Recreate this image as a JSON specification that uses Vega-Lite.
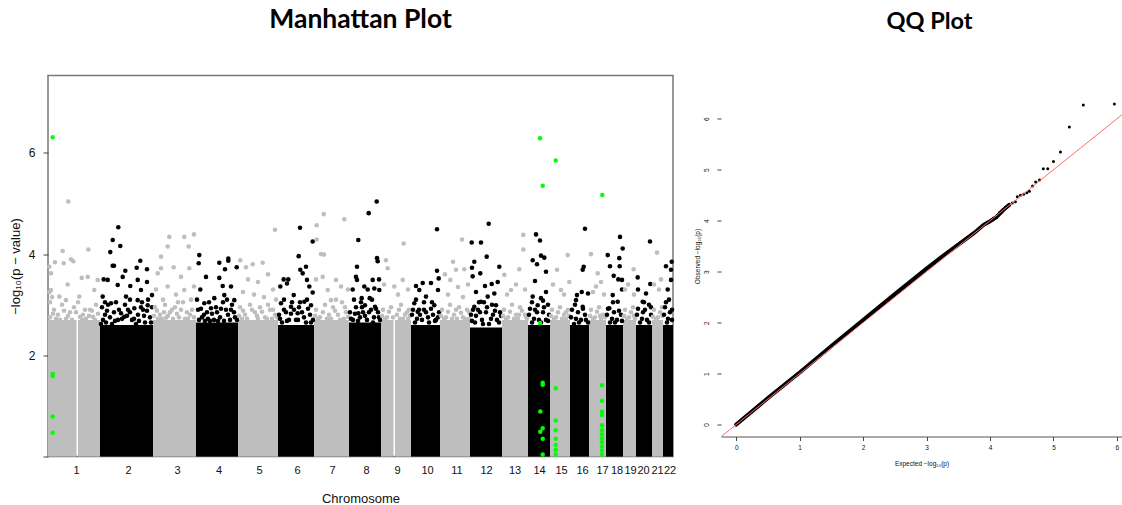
{
  "$schema": "https://vega.github.io/schema/vega-lite/v6.json",
  "background": "white",
  "padding": {"left": 8, "top": 5.5, "right": 0, "bottom": 0},
  "spacing": 17,
  "config": {
    "view": {"stroke": null},
    "axis": {"grid": false, "labelColor": "#111", "titleColor": "#111", "tickColor": "#444", "domain": false},
    "title": {"font": "Lato", "fontWeight": "bold", "color": "#000"}
  },
  "datasets": {
    "chroms": [
      {"chr": 1, "pos": 0, "pos2": 28.5, "logp": 2.7},
      {"chr": 1, "pos": 30, "pos2": 52, "logp": 2.7},
      {"chr": 2, "pos": 52, "pos2": 105, "logp": 2.6},
      {"chr": 3, "pos": 105, "pos2": 148, "logp": 2.7},
      {"chr": 4, "pos": 148, "pos2": 190, "logp": 2.65},
      {"chr": 5, "pos": 190, "pos2": 230, "logp": 2.7},
      {"chr": 6, "pos": 230, "pos2": 266, "logp": 2.6},
      {"chr": 7, "pos": 266, "pos2": 301, "logp": 2.7},
      {"chr": 8, "pos": 301, "pos2": 333, "logp": 2.65},
      {"chr": 9, "pos": 333, "pos2": 345.5, "logp": 2.7},
      {"chr": 9, "pos": 347, "pos2": 363, "logp": 2.7},
      {"chr": 10, "pos": 363, "pos2": 392, "logp": 2.6},
      {"chr": 11, "pos": 392, "pos2": 422, "logp": 2.7},
      {"chr": 12, "pos": 422, "pos2": 454, "logp": 2.55},
      {"chr": 13, "pos": 454, "pos2": 480, "logp": 2.7},
      {"chr": 14, "pos": 480, "pos2": 502, "logp": 2.6},
      {"chr": 15, "pos": 502, "pos2": 522, "logp": 2.7},
      {"chr": 16, "pos": 522, "pos2": 541, "logp": 2.6},
      {"chr": 17, "pos": 541, "pos2": 558, "logp": 2.7},
      {"chr": 18, "pos": 558, "pos2": 575, "logp": 2.6},
      {"chr": 19, "pos": 575, "pos2": 588, "logp": 2.7},
      {"chr": 20, "pos": 588, "pos2": 604, "logp": 2.6},
      {"chr": 21, "pos": 604, "pos2": 615, "logp": 2.7},
      {"chr": 22, "pos": 615, "pos2": 625, "logp": 2.6}
    ],
    "snps": [
      {"chr":1,"pos":20.3,"logp":5.04},{"chr":1,"pos":14.7,"logp":4.06},{"chr":1,"pos":7,"logp":3.84},{"chr":1,"pos":23,"logp":3.9},{"chr":1,"pos":25.3,"logp":3.86},{"chr":1,"pos":15.7,"logp":3.82},{"chr":1,"pos":40.3,"logp":4.09},{"chr":1,"pos":1.3,"logp":3.75},{"chr":1,"pos":3,"logp":3.62},{"chr":1,"pos":19.7,"logp":3.4},{"chr":1,"pos":33.7,"logp":3.53},{"chr":1,"pos":39.7,"logp":3.55},{"chr":1,"pos":3,"logp":3.29},{"chr":1,"pos":11.3,"logp":3.16},{"chr":1,"pos":18,"logp":3.09},{"chr":1,"pos":31.3,"logp":3.16},{"chr":1,"pos":46.3,"logp":3.29},{"chr":1,"pos":49.7,"logp":3.49},{"chr":1,"pos":1.5,"logp":3.25},{"chr":1,"pos":4,"logp":3.15},{"chr":1,"pos":2,"logp":3.05},
      {"chr":1,"pos":6,"logp":2.9},{"chr":1,"pos":10,"logp":2.8},{"chr":1,"pos":14,"logp":3.0},{"chr":1,"pos":22,"logp":2.85},{"chr":1,"pos":26,"logp":2.95},{"chr":1,"pos":35,"logp":2.8},{"chr":1,"pos":42,"logp":2.9},{"chr":1,"pos":48,"logp":3.0},{"chr":1,"pos":30,"logp":3.05},{"chr":1,"pos":8,"logp":2.72},{"chr":1,"pos":18,"logp":2.72},{"chr":1,"pos":38,"logp":2.72},{"chr":1,"pos":45,"logp":2.76},{"chr":1,"pos":32,"logp":2.76},
      {"chr":1,"pos":2,"logp":2.75},{"chr":1,"pos":5,"logp":2.82},{"chr":1,"pos":12,"logp":2.7},{"chr":1,"pos":16,"logp":2.88},{"chr":1,"pos":20,"logp":2.78},{"chr":1,"pos":24,"logp":2.7},{"chr":1,"pos":28,"logp":2.85},{"chr":1,"pos":34,"logp":2.7},{"chr":1,"pos":37,"logp":2.9},{"chr":1,"pos":41,"logp":2.78},{"chr":1,"pos":44,"logp":2.88},{"chr":1,"pos":47,"logp":2.7},{"chr":1,"pos":50,"logp":2.82},
      {"chr":2,"pos":70.3,"logp":4.53},{"chr":2,"pos":64.7,"logp":4.28},{"chr":2,"pos":72.3,"logp":4.16},{"chr":2,"pos":62.3,"logp":4.04},{"chr":2,"pos":64.7,"logp":3.77},{"chr":2,"pos":66,"logp":3.77},{"chr":2,"pos":92.3,"logp":3.87},{"chr":2,"pos":88.7,"logp":3.73},{"chr":2,"pos":99,"logp":3.7},{"chr":2,"pos":77.3,"logp":3.67},{"chr":2,"pos":74.7,"logp":3.55},{"chr":2,"pos":82.3,"logp":3.37},{"chr":2,"pos":89.7,"logp":3.49},{"chr":2,"pos":99,"logp":3.45},{"chr":2,"pos":55.7,"logp":3.5},{"chr":2,"pos":59.7,"logp":3.49},{"chr":2,"pos":69.7,"logp":3.39},{"chr":2,"pos":54.7,"logp":3.16},{"chr":2,"pos":78,"logp":3.16},{"chr":2,"pos":93,"logp":3.29},{"chr":2,"pos":104,"logp":3.19},{"chr":2,"pos":63,"logp":3.03},{"chr":2,"pos":89.7,"logp":3.09},{"chr":2,"pos":99.7,"logp":2.99},{"chr":2,"pos":73,"logp":2.83},{"chr":2,"pos":76.3,"logp":2.76},{"chr":2,"pos":86.3,"logp":2.93},
      {"chr":2,"pos":54,"logp":2.95},{"chr":2,"pos":57,"logp":2.8},{"chr":2,"pos":60,"logp":3.0},{"chr":2,"pos":58,"logp":2.65},{"chr":2,"pos":66,"logp":2.85},{"chr":2,"pos":70,"logp":2.7},{"chr":2,"pos":80,"logp":2.9},{"chr":2,"pos":84,"logp":2.7},{"chr":2,"pos":90,"logp":2.8},{"chr":2,"pos":95,"logp":2.9},{"chr":2,"pos":102,"logp":2.75},{"chr":2,"pos":97,"logp":2.65},{"chr":2,"pos":64,"logp":2.62},{"chr":2,"pos":88,"logp":2.62},{"chr":2,"pos":53,"logp":2.62},{"chr":2,"pos":104,"logp":2.95},{"chr":2,"pos":68,"logp":3.05},{"chr":2,"pos":77,"logp":3.0},{"chr":2,"pos":100,"logp":3.1},
      {"chr":2,"pos":55,"logp":2.7},{"chr":2,"pos":59,"logp":2.88},{"chr":2,"pos":62,"logp":2.75},{"chr":2,"pos":67,"logp":2.68},{"chr":2,"pos":71,"logp":2.9},{"chr":2,"pos":74,"logp":2.72},{"chr":2,"pos":79,"logp":2.78},{"chr":2,"pos":82,"logp":2.85},{"chr":2,"pos":86,"logp":2.72},{"chr":2,"pos":91,"logp":2.68},{"chr":2,"pos":93,"logp":2.95},{"chr":2,"pos":96,"logp":2.78},{"chr":2,"pos":99,"logp":2.88},{"chr":2,"pos":103,"logp":2.65},{"chr":2,"pos":57,"logp":3.05},{"chr":2,"pos":82,"logp":3.1},{"chr":2,"pos":94,"logp":3.05},
      {"chr":3,"pos":121.3,"logp":4.34},{"chr":3,"pos":136.3,"logp":4.34},{"chr":3,"pos":146,"logp":4.39},{"chr":3,"pos":119.7,"logp":4.15},{"chr":3,"pos":140.7,"logp":4.15},{"chr":3,"pos":113,"logp":3.95},{"chr":3,"pos":125.7,"logp":3.74},{"chr":3,"pos":109.7,"logp":3.62},{"chr":3,"pos":113,"logp":3.72},{"chr":3,"pos":133,"logp":3.55},{"chr":3,"pos":141.3,"logp":3.72},{"chr":3,"pos":119.7,"logp":3.36},{"chr":3,"pos":136.3,"logp":3.29},{"chr":3,"pos":146,"logp":3.36},{"chr":3,"pos":108,"logp":3.3},{"chr":3,"pos":128,"logp":3.2},{"chr":3,"pos":143,"logp":3.1},
      {"chr":3,"pos":107,"logp":2.95},{"chr":3,"pos":112,"logp":2.8},{"chr":3,"pos":117,"logp":3.0},{"chr":3,"pos":122,"logp":2.85},{"chr":3,"pos":127,"logp":2.95},{"chr":3,"pos":131,"logp":2.75},{"chr":3,"pos":135,"logp":3.05},{"chr":3,"pos":139,"logp":2.85},{"chr":3,"pos":144,"logp":2.9},{"chr":3,"pos":110,"logp":2.72},{"chr":3,"pos":125,"logp":2.72},{"chr":3,"pos":140,"logp":2.72},{"chr":3,"pos":118,"logp":2.74},
      {"chr":3,"pos":106,"logp":2.78},{"chr":3,"pos":109,"logp":2.88},{"chr":3,"pos":114,"logp":2.72},{"chr":3,"pos":116,"logp":2.85},{"chr":3,"pos":120,"logp":2.78},{"chr":3,"pos":124,"logp":2.9},{"chr":3,"pos":129,"logp":2.82},{"chr":3,"pos":133,"logp":2.9},{"chr":3,"pos":137,"logp":2.72},{"chr":3,"pos":142,"logp":2.8},{"chr":3,"pos":146,"logp":2.75},{"chr":3,"pos":115,"logp":3.1},{"chr":3,"pos":130,"logp":3.05},
      {"chr":4,"pos":151.3,"logp":3.98},{"chr":4,"pos":150.7,"logp":3.82},{"chr":4,"pos":171.3,"logp":3.83},{"chr":4,"pos":180.3,"logp":3.91},{"chr":4,"pos":180.3,"logp":3.87},{"chr":4,"pos":177,"logp":3.7},{"chr":4,"pos":188.7,"logp":3.74},{"chr":4,"pos":158,"logp":3.55},{"chr":4,"pos":171.3,"logp":3.53},{"chr":4,"pos":152.3,"logp":3.3},{"chr":4,"pos":174.7,"logp":3.37},{"chr":4,"pos":183,"logp":3.36},{"chr":4,"pos":166.3,"logp":3.13},{"chr":4,"pos":176.3,"logp":3.19},{"chr":4,"pos":156.3,"logp":3.03},{"chr":4,"pos":186.3,"logp":3.09},{"chr":4,"pos":163,"logp":2.93},
      {"chr":4,"pos":150,"logp":2.9},{"chr":4,"pos":154,"logp":2.75},{"chr":4,"pos":159,"logp":2.85},{"chr":4,"pos":162,"logp":2.68},{"chr":4,"pos":168,"logp":2.95},{"chr":4,"pos":172,"logp":2.75},{"chr":4,"pos":178,"logp":2.9},{"chr":4,"pos":182,"logp":2.7},{"chr":4,"pos":186,"logp":2.85},{"chr":4,"pos":189,"logp":2.7},{"chr":4,"pos":157,"logp":2.68},{"chr":4,"pos":170,"logp":2.68},{"chr":4,"pos":184,"logp":3.0},{"chr":4,"pos":149,"logp":3.1},{"chr":4,"pos":175,"logp":3.05},
      {"chr":4,"pos":151,"logp":2.7},{"chr":4,"pos":153,"logp":2.92},{"chr":4,"pos":156,"logp":2.8},{"chr":4,"pos":160,"logp":2.72},{"chr":4,"pos":164,"logp":2.82},{"chr":4,"pos":166,"logp":2.7},{"chr":4,"pos":169,"logp":2.85},{"chr":4,"pos":173,"logp":2.92},{"chr":4,"pos":176,"logp":2.68},{"chr":4,"pos":180,"logp":2.8},{"chr":4,"pos":183,"logp":2.9},{"chr":4,"pos":187,"logp":2.75},{"chr":4,"pos":161,"logp":3.05},{"chr":4,"pos":179,"logp":3.1},
      {"chr":5,"pos":227,"logp":4.48},{"chr":5,"pos":214.7,"logp":3.83},{"chr":5,"pos":204.7,"logp":3.8},{"chr":5,"pos":192.3,"logp":3.88},{"chr":5,"pos":198,"logp":3.74},{"chr":5,"pos":200,"logp":3.5},{"chr":5,"pos":210,"logp":3.45},{"chr":5,"pos":220,"logp":3.6},{"chr":5,"pos":225,"logp":3.3},{"chr":5,"pos":195,"logp":3.25},{"chr":5,"pos":206,"logp":3.2},{"chr":5,"pos":216,"logp":3.15},{"chr":5,"pos":228,"logp":3.1},
      {"chr":5,"pos":192,"logp":2.95},{"chr":5,"pos":197,"logp":2.8},{"chr":5,"pos":202,"logp":3.0},{"chr":5,"pos":207,"logp":2.85},{"chr":5,"pos":212,"logp":2.95},{"chr":5,"pos":217,"logp":2.75},{"chr":5,"pos":222,"logp":2.9},{"chr":5,"pos":227,"logp":2.8},{"chr":5,"pos":194,"logp":2.72},{"chr":5,"pos":210,"logp":2.72},{"chr":5,"pos":224,"logp":2.72},
      {"chr":5,"pos":191,"logp":2.78},{"chr":5,"pos":195,"logp":2.88},{"chr":5,"pos":199,"logp":2.72},{"chr":5,"pos":204,"logp":2.9},{"chr":5,"pos":209,"logp":2.78},{"chr":5,"pos":214,"logp":2.86},{"chr":5,"pos":219,"logp":2.72},{"chr":5,"pos":220,"logp":3.0},{"chr":5,"pos":225,"logp":2.9},{"chr":5,"pos":229,"logp":2.75},
      {"chr":6,"pos":252,"logp":4.52},{"chr":6,"pos":264.7,"logp":4.25},{"chr":6,"pos":250.7,"logp":3.96},{"chr":6,"pos":252.3,"logp":3.69},{"chr":6,"pos":258,"logp":3.75},{"chr":6,"pos":254.7,"logp":3.62},{"chr":6,"pos":235.7,"logp":3.5},{"chr":6,"pos":240.3,"logp":3.5},{"chr":6,"pos":232.3,"logp":3.36},{"chr":6,"pos":259,"logp":3.49},{"chr":6,"pos":261.3,"logp":3.36},{"chr":6,"pos":264.7,"logp":3.24},{"chr":6,"pos":239,"logp":3.42},{"chr":6,"pos":245.7,"logp":3.19},{"chr":6,"pos":233,"logp":3.03},{"chr":6,"pos":256.3,"logp":3.06},{"chr":6,"pos":243,"logp":2.96},{"chr":6,"pos":263,"logp":2.99},{"chr":6,"pos":249.7,"logp":2.83},
      {"chr":6,"pos":231,"logp":2.8},{"chr":6,"pos":234,"logp":2.65},{"chr":6,"pos":238,"logp":2.85},{"chr":6,"pos":241,"logp":2.7},{"chr":6,"pos":246,"logp":2.9},{"chr":6,"pos":250,"logp":2.7},{"chr":6,"pos":254,"logp":2.85},{"chr":6,"pos":258,"logp":2.65},{"chr":6,"pos":262,"logp":2.8},{"chr":6,"pos":265,"logp":2.7},{"chr":6,"pos":236,"logp":3.1},{"chr":6,"pos":252,"logp":3.05},
      {"chr":6,"pos":232,"logp":2.72},{"chr":6,"pos":236,"logp":2.9},{"chr":6,"pos":239,"logp":2.68},{"chr":6,"pos":243,"logp":2.82},{"chr":6,"pos":248,"logp":2.7},{"chr":6,"pos":251,"logp":2.95},{"chr":6,"pos":256,"logp":2.75},{"chr":6,"pos":260,"logp":2.92},{"chr":6,"pos":263,"logp":2.65},{"chr":6,"pos":244,"logp":3.05},{"chr":6,"pos":259,"logp":3.1},
      {"chr":7,"pos":275.7,"logp":4.79},{"chr":7,"pos":268.7,"logp":4.57},{"chr":7,"pos":296.3,"logp":4.69},{"chr":7,"pos":268.7,"logp":4.29},{"chr":7,"pos":273,"logp":4.0},{"chr":7,"pos":276,"logp":3.99},{"chr":7,"pos":274.7,"logp":3.55},{"chr":7,"pos":288,"logp":3.49},{"chr":7,"pos":293,"logp":3.36},{"chr":7,"pos":279.7,"logp":3.29},{"chr":7,"pos":283,"logp":3.09},{"chr":7,"pos":268,"logp":3.5},{"chr":7,"pos":300,"logp":3.3},
      {"chr":7,"pos":268,"logp":2.9},{"chr":7,"pos":272,"logp":2.75},{"chr":7,"pos":277,"logp":3.0},{"chr":7,"pos":281,"logp":2.8},{"chr":7,"pos":285,"logp":2.95},{"chr":7,"pos":290,"logp":2.8},{"chr":7,"pos":294,"logp":3.05},{"chr":7,"pos":298,"logp":2.85},{"chr":7,"pos":270,"logp":2.72},{"chr":7,"pos":283,"logp":2.72},{"chr":7,"pos":296,"logp":2.72},
      {"chr":7,"pos":267,"logp":2.78},{"chr":7,"pos":275,"logp":2.85},{"chr":7,"pos":279,"logp":2.72},{"chr":7,"pos":287,"logp":2.88},{"chr":7,"pos":292,"logp":2.7},{"chr":7,"pos":297,"logp":2.95},{"chr":7,"pos":300,"logp":2.76},{"chr":7,"pos":288,"logp":3.1},
      {"chr":8,"pos":328.7,"logp":5.04},{"chr":8,"pos":320.7,"logp":4.81},{"chr":8,"pos":310.3,"logp":4.28},{"chr":8,"pos":329,"logp":3.92},{"chr":8,"pos":329.7,"logp":3.86},{"chr":8,"pos":309,"logp":3.75},{"chr":8,"pos":308,"logp":3.55},{"chr":8,"pos":309,"logp":3.49},{"chr":8,"pos":324.7,"logp":3.49},{"chr":8,"pos":331,"logp":3.5},{"chr":8,"pos":304.7,"logp":3.3},{"chr":8,"pos":316.3,"logp":3.36},{"chr":8,"pos":319.7,"logp":3.3},{"chr":8,"pos":326.3,"logp":3.32},{"chr":8,"pos":331.3,"logp":3.29},{"chr":8,"pos":313.7,"logp":3.13},{"chr":8,"pos":321.7,"logp":3.13},{"chr":8,"pos":317,"logp":2.99},{"chr":8,"pos":327,"logp":2.96},{"chr":8,"pos":310.3,"logp":2.83},
      {"chr":8,"pos":302,"logp":2.85},{"chr":8,"pos":305,"logp":2.7},{"chr":8,"pos":308,"logp":2.95},{"chr":8,"pos":312,"logp":2.75},{"chr":8,"pos":315,"logp":2.85},{"chr":8,"pos":319,"logp":2.7},{"chr":8,"pos":323,"logp":2.9},{"chr":8,"pos":326,"logp":2.75},{"chr":8,"pos":330,"logp":2.85},{"chr":8,"pos":332,"logp":2.7},{"chr":8,"pos":306,"logp":3.1},{"chr":8,"pos":324,"logp":3.1},
      {"chr":8,"pos":303,"logp":2.72},{"chr":8,"pos":307,"logp":2.82},{"chr":8,"pos":310,"logp":2.68},{"chr":8,"pos":314,"logp":2.95},{"chr":8,"pos":317,"logp":2.78},{"chr":8,"pos":321,"logp":2.85},{"chr":8,"pos":325,"logp":2.65},{"chr":8,"pos":328,"logp":2.92},{"chr":8,"pos":331,"logp":2.75},{"chr":8,"pos":313,"logp":3.05},
      {"chr":9,"pos":338,"logp":3.88},{"chr":9,"pos":339.7,"logp":3.72},{"chr":9,"pos":355.7,"logp":4.21},{"chr":9,"pos":354.7,"logp":3.49},{"chr":9,"pos":346.3,"logp":3.36},{"chr":9,"pos":360,"logp":3.3},{"chr":9,"pos":336,"logp":3.4},{"chr":9,"pos":350,"logp":3.2},
      {"chr":9,"pos":335,"logp":2.9},{"chr":9,"pos":339,"logp":2.75},{"chr":9,"pos":343,"logp":2.95},{"chr":9,"pos":349,"logp":2.8},{"chr":9,"pos":353,"logp":3.0},{"chr":9,"pos":357,"logp":2.8},{"chr":9,"pos":361,"logp":2.9},{"chr":9,"pos":337,"logp":2.72},{"chr":9,"pos":352,"logp":2.72},{"chr":9,"pos":360,"logp":2.72},
      {"chr":9,"pos":334,"logp":2.78},{"chr":9,"pos":341,"logp":2.86},{"chr":9,"pos":345,"logp":2.75},{"chr":9,"pos":351,"logp":2.9},{"chr":9,"pos":355,"logp":2.72},{"chr":9,"pos":359,"logp":2.85},{"chr":9,"pos":362,"logp":2.78},
      {"chr":10,"pos":389,"logp":4.49},{"chr":10,"pos":389,"logp":3.67},{"chr":10,"pos":390.7,"logp":3.52},{"chr":10,"pos":368,"logp":3.37},{"chr":10,"pos":374.7,"logp":3.43},{"chr":10,"pos":383,"logp":3.43},{"chr":10,"pos":371.3,"logp":3.29},{"chr":10,"pos":378,"logp":3.16},{"chr":10,"pos":390,"logp":3.29},{"chr":10,"pos":366.3,"logp":3.03},{"chr":10,"pos":386.3,"logp":2.99},{"chr":10,"pos":369.7,"logp":2.86},
      {"chr":10,"pos":364,"logp":2.8},{"chr":10,"pos":367,"logp":2.65},{"chr":10,"pos":371,"logp":2.9},{"chr":10,"pos":374,"logp":2.7},{"chr":10,"pos":378,"logp":2.85},{"chr":10,"pos":381,"logp":2.65},{"chr":10,"pos":385,"logp":2.8},{"chr":10,"pos":388,"logp":2.7},{"chr":10,"pos":391,"logp":2.85},{"chr":10,"pos":376,"logp":3.05},
      {"chr":10,"pos":365,"logp":2.9},{"chr":10,"pos":369,"logp":2.72},{"chr":10,"pos":372,"logp":2.8},{"chr":10,"pos":376,"logp":2.9},{"chr":10,"pos":380,"logp":2.75},{"chr":10,"pos":383,"logp":2.92},{"chr":10,"pos":387,"logp":2.68},{"chr":10,"pos":390,"logp":2.75},{"chr":10,"pos":368,"logp":3.1},{"chr":10,"pos":384,"logp":3.05},
      {"chr":11,"pos":414,"logp":4.29},{"chr":11,"pos":408,"logp":3.69},{"chr":11,"pos":416.3,"logp":3.7},{"chr":11,"pos":402.3,"logp":3.49},{"chr":11,"pos":397,"logp":3.6},{"chr":11,"pos":410,"logp":3.35},{"chr":11,"pos":420,"logp":3.4},{"chr":11,"pos":400,"logp":3.2},{"chr":11,"pos":415,"logp":3.15},{"chr":11,"pos":405,"logp":3.85},
      {"chr":11,"pos":394,"logp":2.9},{"chr":11,"pos":398,"logp":2.75},{"chr":11,"pos":402,"logp":3.0},{"chr":11,"pos":406,"logp":2.8},{"chr":11,"pos":411,"logp":2.95},{"chr":11,"pos":415,"logp":2.75},{"chr":11,"pos":419,"logp":2.9},{"chr":11,"pos":396,"logp":2.72},{"chr":11,"pos":409,"logp":2.72},{"chr":11,"pos":421,"logp":2.72},
      {"chr":11,"pos":393,"logp":2.78},{"chr":11,"pos":400,"logp":2.86},{"chr":11,"pos":404,"logp":2.72},{"chr":11,"pos":408,"logp":2.9},{"chr":11,"pos":413,"logp":2.84},{"chr":11,"pos":417,"logp":2.72},{"chr":11,"pos":421,"logp":2.85},
      {"chr":12,"pos":440.7,"logp":4.6},{"chr":12,"pos":423.7,"logp":4.23},{"chr":12,"pos":433,"logp":4.23},{"chr":12,"pos":438.7,"logp":3.95},{"chr":12,"pos":426.3,"logp":3.85},{"chr":12,"pos":424,"logp":3.73},{"chr":12,"pos":432.3,"logp":3.62},{"chr":12,"pos":451.3,"logp":3.75},{"chr":12,"pos":424.7,"logp":3.56},{"chr":12,"pos":437,"logp":3.37},{"chr":12,"pos":443.7,"logp":3.41},{"chr":12,"pos":449.7,"logp":3.45},{"chr":12,"pos":428,"logp":3.25},{"chr":12,"pos":439.7,"logp":3.16},{"chr":12,"pos":446.3,"logp":3.22},{"chr":12,"pos":433,"logp":3.06},{"chr":12,"pos":448,"logp":2.99},{"chr":12,"pos":426.3,"logp":2.96},
      {"chr":12,"pos":423,"logp":2.8},{"chr":12,"pos":427,"logp":2.65},{"chr":12,"pos":430,"logp":2.9},{"chr":12,"pos":434,"logp":2.7},{"chr":12,"pos":438,"logp":2.85},{"chr":12,"pos":441,"logp":2.62},{"chr":12,"pos":445,"logp":2.8},{"chr":12,"pos":449,"logp":2.7},{"chr":12,"pos":452,"logp":2.85},{"chr":12,"pos":436,"logp":3.05},
      {"chr":12,"pos":424,"logp":2.68},{"chr":12,"pos":425,"logp":2.9},{"chr":12,"pos":428,"logp":2.78},{"chr":12,"pos":432,"logp":2.85},{"chr":12,"pos":435,"logp":2.62},{"chr":12,"pos":439,"logp":2.95},{"chr":12,"pos":443,"logp":2.72},{"chr":12,"pos":447,"logp":2.88},{"chr":12,"pos":451,"logp":2.65},{"chr":12,"pos":453,"logp":2.78},{"chr":12,"pos":431,"logp":3.05},{"chr":12,"pos":444,"logp":3.0},
      {"chr":13,"pos":475.3,"logp":4.38},{"chr":13,"pos":475.3,"logp":4.09},{"chr":13,"pos":456.3,"logp":3.59},{"chr":13,"pos":471.3,"logp":3.7},{"chr":13,"pos":463,"logp":3.29},{"chr":13,"pos":468,"logp":3.4},{"chr":13,"pos":459,"logp":3.2},{"chr":13,"pos":477,"logp":3.3},
      {"chr":13,"pos":456,"logp":2.9},{"chr":13,"pos":460,"logp":2.75},{"chr":13,"pos":464,"logp":3.0},{"chr":13,"pos":468,"logp":2.8},{"chr":13,"pos":472,"logp":2.95},{"chr":13,"pos":477,"logp":2.8},{"chr":13,"pos":458,"logp":2.72},{"chr":13,"pos":470,"logp":2.72},{"chr":13,"pos":479,"logp":2.72},
      {"chr":13,"pos":455,"logp":2.78},{"chr":13,"pos":462,"logp":2.86},{"chr":13,"pos":466,"logp":2.72},{"chr":13,"pos":471,"logp":2.8},{"chr":13,"pos":474,"logp":2.88},{"chr":13,"pos":478,"logp":2.76},
      {"chr":14,"pos":488,"logp":4.39},{"chr":14,"pos":492,"logp":4.27},{"chr":14,"pos":484.7,"logp":3.88},{"chr":14,"pos":493,"logp":3.97},{"chr":14,"pos":496.3,"logp":3.93},{"chr":14,"pos":489,"logp":3.8},{"chr":14,"pos":498,"logp":3.65},{"chr":14,"pos":487,"logp":3.47},{"chr":14,"pos":498,"logp":3.25},{"chr":14,"pos":484.7,"logp":3.16},{"chr":14,"pos":493,"logp":3.13},{"chr":14,"pos":489.7,"logp":2.99},{"chr":14,"pos":500,"logp":3.0},
      {"chr":14,"pos":481,"logp":2.8},{"chr":14,"pos":484,"logp":2.65},{"chr":14,"pos":487,"logp":2.9},{"chr":14,"pos":491,"logp":2.7},{"chr":14,"pos":495,"logp":2.85},{"chr":14,"pos":498,"logp":2.7},{"chr":14,"pos":501,"logp":2.8},
      {"chr":14,"pos":482,"logp":2.92},{"chr":14,"pos":486,"logp":2.72},{"chr":14,"pos":489,"logp":2.85},{"chr":14,"pos":493,"logp":2.65},{"chr":14,"pos":496,"logp":2.95},{"chr":14,"pos":500,"logp":2.68},{"chr":14,"pos":484,"logp":3.05},{"chr":14,"pos":495,"logp":3.08},
      {"chr":15,"pos":519.7,"logp":3.98},{"chr":15,"pos":509,"logp":3.69},{"chr":15,"pos":521.3,"logp":3.45},{"chr":15,"pos":513,"logp":3.29},{"chr":15,"pos":505,"logp":3.4},{"chr":15,"pos":516,"logp":3.2},
      {"chr":15,"pos":504,"logp":2.9},{"chr":15,"pos":508,"logp":2.75},{"chr":15,"pos":512,"logp":2.95},{"chr":15,"pos":516,"logp":2.8},{"chr":15,"pos":520,"logp":2.9},{"chr":15,"pos":506,"logp":2.72},{"chr":15,"pos":518,"logp":2.72},
      {"chr":15,"pos":503,"logp":2.78},{"chr":15,"pos":510,"logp":2.85},{"chr":15,"pos":514,"logp":2.72},{"chr":15,"pos":518,"logp":2.85},{"chr":15,"pos":521,"logp":2.78},
      {"chr":16,"pos":537,"logp":4.5},{"chr":16,"pos":535.7,"logp":3.75},{"chr":16,"pos":534.7,"logp":3.69},{"chr":16,"pos":529,"logp":3.19},{"chr":16,"pos":540,"logp":3.22},{"chr":16,"pos":533.7,"logp":3.25},{"chr":16,"pos":528,"logp":3.09},{"chr":16,"pos":534.7,"logp":2.96},
      {"chr":16,"pos":523,"logp":2.75},{"chr":16,"pos":526,"logp":2.62},{"chr":16,"pos":530,"logp":2.85},{"chr":16,"pos":533,"logp":2.7},{"chr":16,"pos":537,"logp":2.8},{"chr":16,"pos":540,"logp":2.65},
      {"chr":16,"pos":524,"logp":2.9},{"chr":16,"pos":528,"logp":2.72},{"chr":16,"pos":531,"logp":2.65},{"chr":16,"pos":535,"logp":2.92},{"chr":16,"pos":538,"logp":2.7},{"chr":16,"pos":527,"logp":3.0},
      {"chr":17,"pos":543,"logp":4.0},{"chr":17,"pos":549.7,"logp":3.62},{"chr":17,"pos":548,"logp":3.36},{"chr":17,"pos":553,"logp":3.45},{"chr":17,"pos":556,"logp":3.2},{"chr":17,"pos":545,"logp":3.25},
      {"chr":17,"pos":543,"logp":2.9},{"chr":17,"pos":547,"logp":2.75},{"chr":17,"pos":551,"logp":2.95},{"chr":17,"pos":555,"logp":2.8},{"chr":17,"pos":545,"logp":2.72},{"chr":17,"pos":553,"logp":2.72},
      {"chr":17,"pos":542,"logp":2.78},{"chr":17,"pos":549,"logp":2.86},{"chr":17,"pos":552,"logp":2.78},{"chr":17,"pos":557,"logp":2.75},
      {"chr":18,"pos":572,"logp":4.34},{"chr":18,"pos":574.7,"logp":4.11},{"chr":18,"pos":559.7,"logp":3.98},{"chr":18,"pos":571.3,"logp":3.92},{"chr":18,"pos":562,"logp":3.76},{"chr":18,"pos":571.7,"logp":3.76},{"chr":18,"pos":565.7,"logp":3.57},{"chr":18,"pos":570.3,"logp":3.5},{"chr":18,"pos":574,"logp":3.49},{"chr":18,"pos":574,"logp":3.3},{"chr":18,"pos":564.7,"logp":3.19},{"chr":18,"pos":569.7,"logp":3.06},{"chr":18,"pos":561.3,"logp":2.93},
      {"chr":18,"pos":559,"logp":2.8},{"chr":18,"pos":562,"logp":2.65},{"chr":18,"pos":566,"logp":2.85},{"chr":18,"pos":569,"logp":2.7},{"chr":18,"pos":573,"logp":2.8},
      {"chr":18,"pos":560,"logp":2.92},{"chr":18,"pos":564,"logp":2.72},{"chr":18,"pos":567,"logp":2.65},{"chr":18,"pos":571,"logp":2.88},{"chr":18,"pos":574,"logp":2.68},{"chr":18,"pos":565,"logp":3.05},
      {"chr":19,"pos":585.7,"logp":3.7},{"chr":19,"pos":580,"logp":3.4},{"chr":19,"pos":586,"logp":3.2},{"chr":19,"pos":577,"logp":3.3},
      {"chr":19,"pos":577,"logp":2.9},{"chr":19,"pos":581,"logp":2.75},{"chr":19,"pos":585,"logp":2.95},{"chr":19,"pos":579,"logp":2.72},{"chr":19,"pos":587,"logp":2.72},
      {"chr":19,"pos":576,"logp":2.78},{"chr":19,"pos":583,"logp":2.85},{"chr":19,"pos":586,"logp":2.78},
      {"chr":20,"pos":602,"logp":4.25},{"chr":20,"pos":589.7,"logp":3.54},{"chr":20,"pos":590,"logp":3.3},{"chr":20,"pos":602.3,"logp":3.41},{"chr":20,"pos":598,"logp":3.22},{"chr":20,"pos":594.7,"logp":3.06},{"chr":20,"pos":601,"logp":3.0},
      {"chr":20,"pos":589,"logp":2.8},{"chr":20,"pos":592,"logp":2.65},{"chr":20,"pos":595,"logp":2.85},{"chr":20,"pos":599,"logp":2.7},{"chr":20,"pos":603,"logp":2.8},
      {"chr":20,"pos":590,"logp":2.92},{"chr":20,"pos":594,"logp":2.72},{"chr":20,"pos":597,"logp":2.9},{"chr":20,"pos":601,"logp":2.65},{"chr":20,"pos":603,"logp":2.95},{"chr":20,"pos":596,"logp":3.05},
      {"chr":21,"pos":609,"logp":4.03},{"chr":21,"pos":611,"logp":3.3},{"chr":21,"pos":606,"logp":3.4},{"chr":21,"pos":613,"logp":3.5},
      {"chr":21,"pos":606,"logp":2.9},{"chr":21,"pos":610,"logp":2.75},{"chr":21,"pos":614,"logp":2.95},{"chr":21,"pos":608,"logp":2.72},
      {"chr":21,"pos":605,"logp":2.76},{"chr":21,"pos":612,"logp":2.85},{"chr":21,"pos":614.5,"logp":2.78},
      {"chr":22,"pos":623.7,"logp":3.85},{"chr":22,"pos":618,"logp":3.76},{"chr":22,"pos":623,"logp":3.69},{"chr":22,"pos":623,"logp":3.49},{"chr":22,"pos":619.7,"logp":3.3},{"chr":22,"pos":621,"logp":3.1},
      {"chr":22,"pos":616,"logp":2.8},{"chr":22,"pos":619,"logp":2.65},{"chr":22,"pos":622,"logp":2.85},{"chr":22,"pos":624,"logp":2.7},
      {"chr":22,"pos":617,"logp":2.95},{"chr":22,"pos":620,"logp":2.72},{"chr":22,"pos":624,"logp":2.9},{"chr":22,"pos":618,"logp":3.05}
    ],
    "hits": [
      {"chr":1,"pos":4.7,"logp":6.31},{"chr":1,"pos":4.7,"logp":1.63},{"chr":1,"pos":4.7,"logp":1.59},{"chr":1,"pos":4.7,"logp":0.79},{"chr":1,"pos":4.7,"logp":0.47},
      {"chr":14,"pos":492,"logp":6.29},{"chr":14,"pos":494.7,"logp":5.35},{"chr":14,"pos":492,"logp":2.64},{"chr":14,"pos":494.7,"logp":1.46},{"chr":14,"pos":494.7,"logp":1.42},{"chr":14,"pos":492.3,"logp":0.89},{"chr":14,"pos":494.7,"logp":0.56},{"chr":14,"pos":492.3,"logp":0.49},{"chr":14,"pos":494.7,"logp":0.35},{"chr":14,"pos":494.7,"logp":0.04},
      {"chr":15,"pos":507.7,"logp":5.85},{"chr":15,"pos":507.7,"logp":1.35},{"chr":15,"pos":507.7,"logp":0.71},{"chr":15,"pos":507.7,"logp":0.52},{"chr":15,"pos":507.7,"logp":0.35},{"chr":15,"pos":507.7,"logp":0.23},{"chr":15,"pos":507.7,"logp":0.13},{"chr":15,"pos":507.7,"logp":0.04},
      {"chr":17,"pos":554.3,"logp":5.17},{"chr":17,"pos":554,"logp":1.41},{"chr":17,"pos":554,"logp":1.1},{"chr":17,"pos":554,"logp":0.89},{"chr":17,"pos":554,"logp":0.82},{"chr":17,"pos":554,"logp":0.62},{"chr":17,"pos":554,"logp":0.52},{"chr":17,"pos":554,"logp":0.44},{"chr":17,"pos":554,"logp":0.36},{"chr":17,"pos":554,"logp":0.28},{"chr":17,"pos":554,"logp":0.2},{"chr":17,"pos":554,"logp":0.12},{"chr":17,"pos":554,"logp":0.04}
    ],
    "thresholds": [{"logp": 6.98}, {"logp": 5.17}],
    "qqline": [{"exp": -0.24, "obs": -0.24}, {"exp": 6.08, "obs": 6.08}],
    "qqdense": [
      {"exp":0.0,"obs":0.0},{"exp":0.5,"obs":0.52},{"exp":1.0,"obs":1.02},{"exp":1.5,"obs":1.54},{"exp":2.0,"obs":2.05},{"exp":2.5,"obs":2.56},{"exp":3.0,"obs":3.06},{"exp":3.25,"obs":3.3},{"exp":3.5,"obs":3.53},{"exp":3.75,"obs":3.76},{"exp":3.9,"obs":3.92},{"exp":4.0,"obs":3.99},{"exp":4.1,"obs":4.07},{"exp":4.2,"obs":4.2},{"exp":4.3,"obs":4.31}
    ],
    "qqpts": [
      {"exp":4.05,"obs":4.05},{"exp":4.15,"obs":4.16},{"exp":4.25,"obs":4.27},{"exp":4.3,"obs":4.32},{"exp":4.35,"obs":4.35},{"exp":4.4,"obs":4.37},{"exp":4.43,"obs":4.47},{"exp":4.48,"obs":4.5},{"exp":4.53,"obs":4.52},{"exp":4.58,"obs":4.55},{"exp":4.62,"obs":4.58},{"exp":4.67,"obs":4.68},{"exp":4.72,"obs":4.76},{"exp":4.78,"obs":4.8},{"exp":4.84,"obs":5.02},{"exp":4.91,"obs":5.02},{"exp":5.0,"obs":5.16},{"exp":5.11,"obs":5.35},{"exp":5.25,"obs":5.84},{"exp":5.47,"obs":6.27},{"exp":5.96,"obs":6.29}
    ]
  },
  "hconcat": [
    {
      "width": 625,
      "height": 381,
      "title": {"text": "Manhattan Plot", "offset": 42.2, "fontSize": 26.5},
      "view": {"stroke": "#777", "strokeWidth": 1.5},
      "encoding": {
        "x": {"field": "pos", "type": "quantitative", "title": "Chromosome",
          "scale": {"domain": [0, 625], "nice": false, "zero": false},
          "axis": {"values": [28,80,129,170.5,211,249,284,318,349,379,408.5,438,466.5,491,513,534,554,568.5,582,595,609,621.6],
            "labelExpr": "'' + (indexof([28,80,129,170.5,211,249,284,318,349,379,408.5,438,466.5,491,513,534,554,568.5,582,595,609,621.6], datum.value) + 1)",
            "ticks": false, "labelPadding": 8, "labelOverlap": false, "labelBound": false, "labelFlush": false, "labelSeparation": 0,
            "labelFont": "Liberation Sans", "labelFontSize": 11, "titleFont": "Liberation Sans", "titleFontSize": 13, "titleFontWeight": "normal", "titlePadding": 17}},
        "y": {"field": "logp", "type": "quantitative", "title": "−log₁₀(p − value)",
          "scale": {"domain": [0, 7.53], "nice": false, "zero": false},
          "axis": {"values": [0, 2, 4, 6], "labelExpr": "datum.value == 0 ? '' : datum.label", "tickSize": 5, "labelPadding": 8, "labelAngle": 0,
            "labelFont": "Liberation Sans", "labelFontSize": 12, "titleFont": "Liberation Sans", "titleFontSize": 13, "titleFontWeight": "normal", "titlePadding": 6}}
      },
      "layer": [
        {
          "data": {"name": "chroms"},
          "mark": {"type": "rect"},
          "encoding": {
            "x2": {"field": "pos2"},
            "y2": {"datum": 0},
            "color": {"field": "chr", "type": "nominal", "legend": null,
              "scale": {"domain": [1,2,3,4,5,6,7,8,9,10,11,12,13,14,15,16,17,18,19,20,21,22],
                "range": ["#bebebe","#000000","#bebebe","#000000","#bebebe","#000000","#bebebe","#000000","#bebebe","#000000","#bebebe","#000000","#bebebe","#000000","#bebebe","#000000","#bebebe","#000000","#bebebe","#000000","#bebebe","#000000"]}}
          }
        },
        {
          "data": {"name": "snps"},
          "mark": {"type": "circle", "size": 21, "opacity": 1},
          "encoding": {
            "color": {"field": "chr", "type": "nominal", "legend": null}
          }
        },
        {
          "data": {"name": "hits"},
          "mark": {"type": "circle", "size": 20, "opacity": 1, "color": "#00ff00"}
        },
        {
          "data": {"name": "thresholds"},
          "mark": {"type": "rule", "color": "#555", "strokeDash": [3, 2], "strokeWidth": 1},
          "encoding": {
            "x": {"datum": 0},
            "x2": {"datum": 625}
          }
        }
      ]
    },
    {
      "width": 401,
      "height": 361,
      "title": {"text": "QQ Plot", "offset": 42.2, "fontSize": 23.5, "dx": 8},
      "encoding": {
        "x": {"field": "exp", "type": "quantitative", "title": "Expected −log₁₀(p)",
          "scale": {"domain": [-0.24, 6.08], "nice": false, "zero": false},
          "axis": {"values": [0,1,2,3,4,5,6], "format": "d", "tickSize": 4, "labelPadding": 4, "domain": true, "domainColor": "#555",
            "labelFont": "Liberation Sans", "labelFontSize": 6.5, "titleFont": "Liberation Sans", "titleFontSize": 6.5, "titleFontWeight": "normal", "titlePadding": 9}},
        "y": {"field": "obs", "type": "quantitative", "title": "Observed −log₁₀(p)",
          "scale": {"domain": [-0.235, 6.85], "nice": false, "zero": false},
          "axis": {"values": [0,1,2,3,4,5,6], "format": "d", "tickSize": 4, "labelPadding": 8, "labelAngle": 270, "labelAlign": "center", "labelBaseline": "bottom",
            "labelFont": "Liberation Sans", "labelFontSize": 6.5, "titleFont": "Liberation Sans", "titleFontSize": 6.5, "titleFontWeight": "normal", "titlePadding": 3}}
      },
      "layer": [
        {
          "data": {"values": [{}]},
          "mark": {"type": "rule", "color": "#555", "strokeWidth": 1},
          "encoding": {"x": {"datum": -0.24}, "y": {"datum": -0.235}, "y2": {"datum": 6.54}}
        },
        {
          "data": {"values": [{}]},
          "mark": {"type": "rule", "color": "#bbb", "strokeWidth": 1},
          "encoding": {"y": {"datum": 6.54}, "x": {"datum": -0.24}, "x2": {"datum": 6.08}}
        },
        {
          "data": {"name": "qqdense"},
          "mark": {"type": "line", "color": "#000", "strokeWidth": 4, "strokeCap": "round"}
        },
        {
          "data": {"name": "qqpts"},
          "mark": {"type": "circle", "size": 9, "color": "#000", "opacity": 1}
        },
        {
          "data": {"name": "qqline"},
          "mark": {"type": "line", "color": "#ff6b6b", "strokeWidth": 1, "clip": true}
        }
      ]
    }
  ]
}
